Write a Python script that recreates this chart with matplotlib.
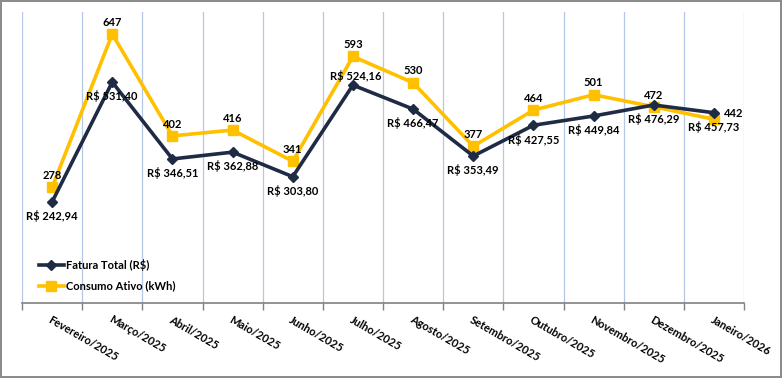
import numpy as np
import matplotlib.pyplot as plt

plt.rcParams['font.family'] = ['Lato', 'DejaVu Sans']

meses = ['Fevereiro/2025', 'Março/2025', 'Abril/2025', 'Maio/2025', 'Junho/2025',
         'Julho/2025', 'Agosto/2025', 'Setembro/2025', 'Outubro/2025',
         'Novembro/2025', 'Dezembro/2025', 'Janeiro/2026']
fatura = [242.94, 531.40, 346.51, 362.88, 303.80, 524.16, 466.47, 353.49,
          427.55, 449.84, 476.29, 457.73]
consumo = [278, 647, 402, 416, 341, 593, 530, 377, 464, 501, 472, 442]

azul = '#1f2b45'
amarelo = '#ffc000'

fig = plt.figure(figsize=(7.82, 3.78), dpi=100)
fig.patch.set_edgecolor('#8c8c8c')
fig.patch.set_linewidth(1.5)
ax = fig.add_axes([22/782, 1 - 303/378, 722/782, 291/378])

x = np.arange(len(meses))
ax.plot(x, fatura, color=azul, lw=2.6, marker='D', ms=5, label='Fatura Total (R$)', zorder=3)
ax.plot(x, consumo, color=amarelo, lw=2.6, marker='s', ms=7, label='Consumo Ativo (kWh)', zorder=2)

ax.set_xlim(-0.5, len(meses) - 0.5)
ax.set_ylim(0, 700)

# rotulos dos dados
for i, v in enumerate(consumo):
    if i == len(consumo) - 1:
        ax.annotate(str(v), (i, v), xytext=(7, 4), textcoords='offset points',
                    ha='left', va='center', fontsize=8, fontweight='bold')
    else:
        ax.annotate(str(v), (i, v), xytext=(0, 4.5), textcoords='offset points',
                    ha='center', va='bottom', fontsize=8, fontweight='bold')

for i, v in enumerate(fatura):
    txt = 'R$ ' + f'{v:.2f}'.replace('.', ',')
    if i == 5:
        ax.annotate(txt, (i, v), xytext=(2, 2), textcoords='offset points',
                    ha='center', va='bottom', fontsize=8, fontweight='bold')
    else:
        ax.annotate(txt, (i, v), xytext=(0, -6), textcoords='offset points',
                    ha='center', va='top', fontsize=8, fontweight='bold')

# grade vertical entre categorias
for b in np.arange(-0.5, len(meses), 1):
    ax.axvline(b, color='#b4c7e7', lw=0.9, zorder=0)

ax.set_xticks(np.arange(-0.5, len(meses), 1), minor=False)
ax.set_xticklabels([])
ax.tick_params(axis='x', length=5, color='#808080', width=1)
ax.set_yticks([])
for s in ['top', 'right', 'left']:
    ax.spines[s].set_visible(False)
ax.spines['bottom'].set_color('#808080')
ax.spines['bottom'].set_linewidth(1.2)

for i, m in enumerate(meses):
    ax.text(i, -26, m, rotation=-30, rotation_mode='anchor', ha='left', va='top',
            fontsize=8, fontweight='bold')

ax.legend(loc='lower left', bbox_to_anchor=(0.01, 0.005), frameon=False,
          prop={'weight': 'bold', 'size': 8}, handlelength=2.2, handletextpad=0.2,
          labelspacing=0.85)

fig.savefig('out.png', dpi=100, edgecolor=fig.get_edgecolor())
